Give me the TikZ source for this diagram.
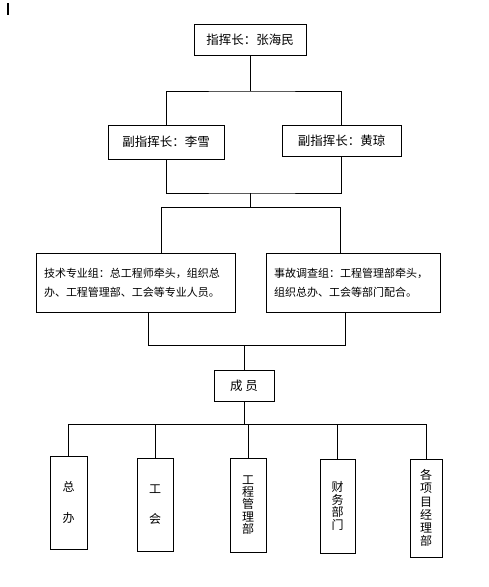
\documentclass[tikz,border=0pt]{standalone}
\usepackage{fontspec}
\newfontfamily\cjk{Noto Sans CJK SC}
\newcommand\deptfont{\cjk\fontsize{12}{12.4}\selectfont
  \setlength{\lineskiplimit}{-20pt}\setlength{\lineskip}{0pt}}

\begin{document}
\begin{tikzpicture}[
  x=1pt, y=-1pt,
  line width=0.9pt,
  font=\cjk\fontsize{12.5}{15}\selectfont,
  box/.style={draw, inner sep=0pt, align=center},
  group/.style={box, align=left, text width=#1, inner xsep=8pt,
    minimum height=59, font=\cjk\fontsize{11}{19}\selectfont},
  dept/.style={box, minimum width=#1, text width=13pt, font=\deptfont},
]
  \useasboundingbox (0,0) rectangle (488,587);
  \draw[line width=1.6pt] (8,3) -- (8,15);

  % command
  \node[box, minimum width=112, minimum height=31] (cmd) at (250,39.5)
    {指挥长：张海民};
  \node[box, minimum width=116, minimum height=34] (dep1) at (166,142)
    {副指挥长：李雪};
  \node[box, minimum width=119, minimum height=31] (dep2) at (341.5,140.5)
    {副指挥长：黄琼};

  % groups
  \node[group=183] (tech) at (135.5,282.5)
    {技术专业组：总工程师牵头，组织总\\办、工程管理部、工会等专业人员。};
  \node[group=158] (inv) at (353,282.5)
    {事故调查组：工程管理部牵头，\\组织总办、工会等部门配合。};

  \node[box, minimum width=60, minimum height=31] (mem) at (244,385.5)
    {成\ 员};

  % departments
  \node[dept=37, minimum height=93] (d1) at (68.5,502.5) {总\\[19pt]办};
  \node[dept=36, minimum height=93] (d2) at (155,504.5) {工\\[17.5pt]会};
  \node[dept=36, minimum height=94] (d3) at (248,505) {工\\程\\管\\理\\部};
  \node[dept=35, minimum height=94] (d4) at (337.5,506) {财\\务\\部\\门};
  \node[dept=32, minimum height=98] (d5) at (426,508)
    {各\\[0.7pt]项\\[0.7pt]目\\[0.7pt]经\\[0.7pt]理\\[0.7pt]部};

  \coordinate (bus1) at (250,91);
  \coordinate (bus2) at (250,193);
  \coordinate (bus3l) at (161,207);
  \coordinate (bus3r) at (340,207);
  \coordinate (bus4l) at (148,345);
  \coordinate (bus4r) at (345,345);
  \coordinate (bus5) at (246,424);

  \draw (cmd) -- (bus1);
  \draw (dep1.north) |- (bus1) -| (dep2.north);
  \draw (dep1.south) |- (bus2) -| (dep2.south);
  \draw (bus2) -- (bus2 |- bus3l);
  \draw (bus3l) -- (bus3r);
  \draw (bus3l) -- (bus3l |- tech.north);
  \draw (bus3r) -- (bus3r |- inv.north);
  \draw (bus4l |- tech.south) -- (bus4l) -- (bus4r) -- (bus4r |- inv.south);
  \draw (mem) -- (mem |- bus4l);
  \draw (mem) -- (mem |- bus5);
  \draw (d1.north |- bus5) -- (d5.north |- bus5);
  \draw (d1.north) -- (d1.north |- bus5);
  \draw (d2.north) -- (d2.north |- bus5);
  \draw (d3.north) -- (d3.north |- bus5);
  \draw (d4.north) -- (d4.north |- bus5);
  \draw (d5.north) -- (d5.north |- bus5);
\end{tikzpicture}
\end{document}
